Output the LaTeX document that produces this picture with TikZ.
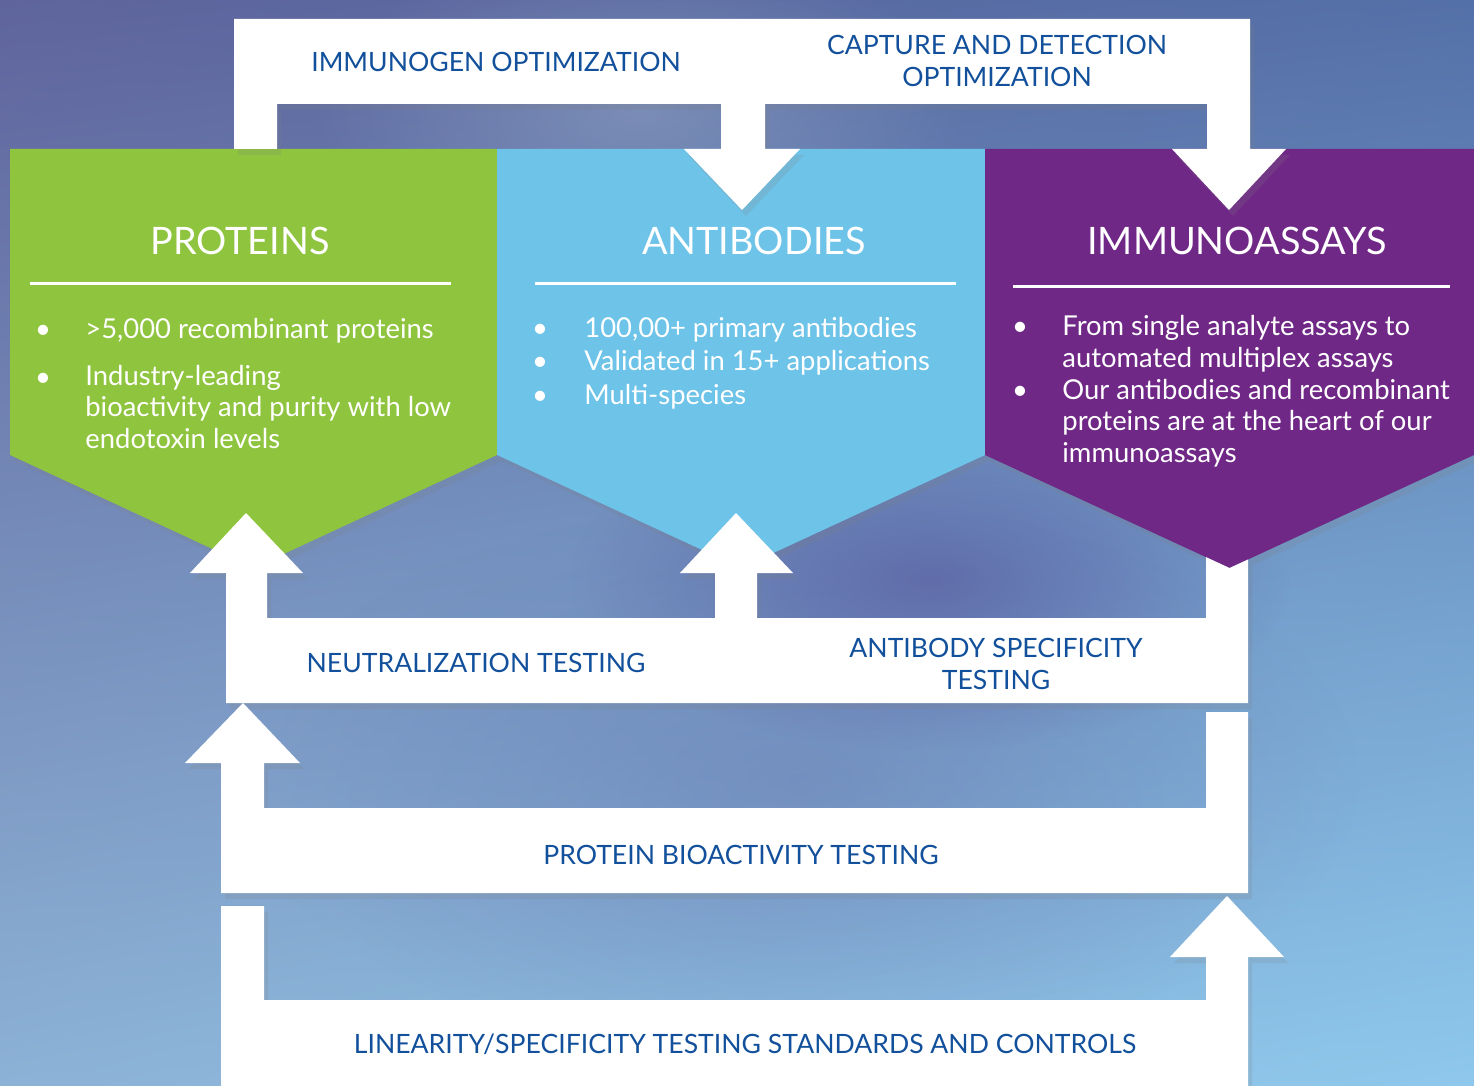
\documentclass[tikz,border=0pt]{standalone}
\usepackage[x11names, svgnames, rgb]{xcolor}
\usepackage{fontspec}
\setmainfont{Lato}
\usepackage{tikz}
\usetikzlibrary{calc, backgrounds, positioning, shadows, fadings, shadings}
\definecolor{proteingreen}{RGB}{143,196,62}
\definecolor{antibodyblue}{RGB}{110,195,232}
\definecolor{assaypurple}{RGB}{112,40,135}
\definecolor{flowblue}{RGB}{18,80,156}
\definecolor{bgtl}{RGB}{95,100,156}
\definecolor{bgtr}{RGB}{84,112,168}
\definecolor{bgbl}{RGB}{140,178,214}
\definecolor{bgbr}{RGB}{142,200,236}
\definecolor{bgdeep}{RGB}{88,92,160}
\tikzfading[name=blobfade, inner color=transparent!0, outer color=transparent!100]

\begin{document}
\begin{tikzpicture}[x=.5pt, y=-.5pt,
    panel/.style={draw=none, drop shadow={opacity=.18, shadow xshift=2pt, shadow yshift=-3pt}},
    whiteflow/.style={fill=white, drop shadow={opacity=.18, shadow xshift=2pt, shadow yshift=-3pt}},
    paneltitle/.style={text=white, inner sep=0pt, anchor=base, font=\fontsize{18.9}{22}\selectfont},
    panelrule/.style={draw=white, line width=1.5pt},
    item/.style={text=white, inner sep=0pt, anchor=base west, align=left, font=\fontsize{13.7}{15.75}\selectfont},
    bulletdot/.style={text=white, inner sep=0pt, anchor=base, font=\fontsize{13.7}{15.75}\selectfont},
    flowtext/.style={text=flowblue, inner sep=0pt, align=center, font=\fontsize{13.3}{16}\selectfont}]

\useasboundingbox (0,0) rectangle (1474,1086);
\shade[upper left=bgtl, upper right=bgtr, lower left=bgbl, lower right=bgbr] (0,0) rectangle (1474,1086);
\fill[RoyalBlue4!70!white, path fading=blobfade, fill opacity=.5] (800,780) ellipse (560 and 280);
\fill[bgdeep, path fading=blobfade, fill opacity=.7] (930,580) ellipse (360 and 170);
\fill[LightSteelBlue3, path fading=blobfade, fill opacity=.4] (640,110) ellipse (330 and 160);

\fill[proteingreen, panel] (10,149) -- (497,149) -- (497,455) -- (253.5,568) -- (10,455) -- cycle;
\fill[antibodyblue, panel] (497,149) -- (985,149) -- (985,455) -- (741,568) -- (497,455) -- cycle;
\fill[assaypurple, panel] (985,149) -- (1474,149) -- (1474,455) -- (1229.5,568) -- (985,455) -- cycle;

\node[paneltitle] (proteins) at (240,255) {PROTEINS};
\node[paneltitle] (antibodies) at (754,255) {ANTIBODIES};
\node[paneltitle] (immunoassays) at (1237,255) {IMMUNOASSAYS};
\draw[panelrule] (30,283) -- (451,283);
\draw[panelrule] (535,283) -- (956,283);
\draw[panelrule] (1013,286) -- (1450,286);

\node[bulletdot] (pb1) at (43,338) {•};
\node[item] (p1) at (85,338) {>5,000 recombinant proteins};
\node[bulletdot] (pb2) at (43,386) {•};
\node[item] (p2) at (85,448) {Industry-leading\\bioactivity and purity with low\\endotoxin levels};

\node[bulletdot] (ab1) at (540,337) {•};
\node[item] (a1) at (584,337) {100,00+ primary antibodies};
\node[bulletdot] (ab2) at (540,370) {•};
\node[item] (a2) at (584,370) {Validated in 15+ applications};
\node[bulletdot] (ab3) at (540,404) {•};
\node[item] (a3) at (584,404) {Multi-species};

\node[bulletdot] (ib1) at (1020,335) {•};
\node[item] (i1) at (1062,367) {From single analyte assays to\\automated multiplex assays};
\node[bulletdot] (ib2) at (1020,399) {•};
\node[item] (i2) at (1062,462) {Our antibodies and recombinant\\proteins are at the heart of our\\immunoassays};

\path[whiteflow] (234,149) -- (234,19) -- (765,19) -- (765,149) -- (800,149) -- (742,210)
    -- (684,149) -- (721,149) -- (721,104) -- (277,104) -- (277,149) -- cycle;
\path[whiteflow] (765,19) -- (1250,19) -- (1250,149) -- (1286,149) -- (1229,210) -- (1172,149)
    -- (1207,149) -- (1207,104) -- (765,104) -- cycle;
\path[whiteflow] (226,703) -- (715,703) -- (715,618) -- (267,618) -- (267,573) -- (303,573)
    -- (246,513) -- (190,573) -- (226,573) -- cycle;
\path[whiteflow] (715,703) -- (1248,703) -- (1248,559.5) -- (1229.5,568) -- (1206,557.1) -- (1206,618)
    -- (757,618) -- (757,573) -- (793,573) -- (736,513) -- (680,573) -- (715,573) -- cycle;
\path[whiteflow] (221,893) -- (1248,893) -- (1248,712) -- (1206,712) -- (1206,808) -- (264,808)
    -- (264,763) -- (300,763) -- (243,703) -- (185,763) -- (221,763) -- cycle;
\path[whiteflow] (221,1086) -- (1248,1086) -- (1248,957) -- (1284,957) -- (1227,896) -- (1170,957)
    -- (1206,957) -- (1206,1000) -- (264,1000) -- (264,906) -- (221,906) -- cycle;

\node[flowtext, anchor=base] (immunogen) at (496,72) {IMMUNOGEN OPTIMIZATION};
\node[flowtext] (capture) at (997,61) {CAPTURE AND DETECTION\\OPTIMIZATION};
\node[flowtext, anchor=base] (neutral) at (476,672) {NEUTRALIZATION TESTING};
\node[flowtext] (specific) at (996,664) {ANTIBODY SPECIFICITY\\TESTING};
\node[flowtext, anchor=base] (bioact) at (741,864) {PROTEIN BIOACTIVITY TESTING};
\node[flowtext, anchor=base] (linear) at (745,1053) {LINEARITY/SPECIFICITY TESTING STANDARDS AND CONTROLS};
\end{tikzpicture}
\end{document}
